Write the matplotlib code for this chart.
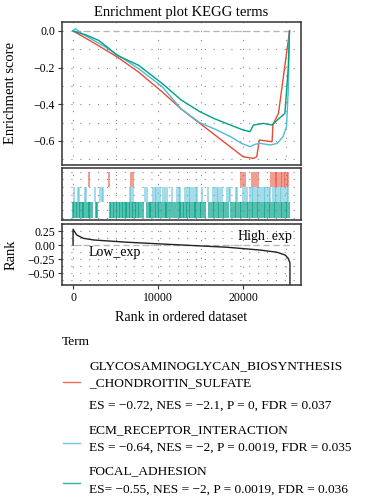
import matplotlib
matplotlib.use("Agg")
import matplotlib.pyplot as plt
from matplotlib.lines import Line2D
from matplotlib.ticker import MultipleLocator

plt.rcParams['font.family'] = ['Liberation Serif', 'DejaVu Serif']
plt.rcParams['axes.unicode_minus'] = True

# ---------------- data ----------------
terms = ["GLYCOSAMINOGLYCAN_BIOSYNTHESIS\n_CHONDROITIN_SULFATE",
         "ECM_RECEPTOR_INTERACTION",
         "FOCAL_ADHESION"]
stats = ["ES = \u22120.72, NES = \u22122.1, P = 0, FDR = 0.037",
         "ES = \u22120.64, NES = \u22122, P = 0.0019, FDR = 0.035",
         "ES= \u22120.55, NES = \u22122, P = 0.0019, FDR = 0.036"]
colors = ["#E64B35", "#4DBBD5", "#00A087"]

red_x = [0, 2600, 5200, 7700, 10500, 12700, 20000, 21200, 21600, 21900, 23400, 23500, 24150, 25450]
red_y = [0, -0.069, -0.142, -0.224, -0.333, -0.425, -0.686, -0.695, -0.686, -0.595, -0.604, -0.51, -0.45, 0.0]

blue_x = [0, 270, 1060, 3800, 5000, 7700, 10500, 12700, 14900, 16900, 18500, 19800, 20800, 21400, 22000,
          23200, 24000, 24700, 25100, 25300, 25450]
blue_y = [0, 0.013, -0.015, -0.087, -0.124, -0.205, -0.305, -0.425, -0.50, -0.54, -0.576, -0.613, -0.631,
          -0.618, -0.613, -0.622, -0.613, -0.576, -0.52, -0.32, 0.0]

teal_x = [0, 1650, 3000, 4000, 5200, 7700, 10500, 12700, 14900, 16500, 18500, 20000, 20800, 21200, 22400,
          23400, 24000, 24900, 25100, 25300, 25450]
teal_y = [0, -0.024, -0.051, -0.087, -0.133, -0.187, -0.287, -0.376, -0.44, -0.476, -0.513, -0.54, -0.549,
          -0.513, -0.504, -0.513, -0.486, -0.45, -0.33, -0.2, 0.0]

red_hits = [1900, 4250, 6800, 7050, 19800, 20000, 20250, 21000, 21250, 21500, 21700, 23300, 23500, 23700,
            23850, 24000, 24200, 24400, 24600, 24800, 24950, 25100, 25250]
blue_hits = [100, 600, 700, 1400, 1500, 2600, 3200, 3400, 3500, 6700, 6850, 7000,
             8500, 8700, 9400, 9600, 9800, 10000, 10200, 10600, 10800, 11000, 11600, 12200, 12400, 12600,
             13200, 13400, 13600, 13800, 14000, 14200, 14400, 14600, 15200, 15900, 16500, 16700, 16900,
             17100, 17300, 17500, 18100, 18300, 18500, 19100, 19300, 20000, 20200, 20400, 20800, 21000,
             21200, 21400, 21600, 21800, 22000, 22200, 22400, 22600, 22800, 23000, 23200, 23500, 23700,
             23900, 24100, 24300, 24500, 24700, 24900, 25100, 25300]
teal_hits = [0, 150, 300, 500, 650, 800, 1000, 1150, 1300, 1500, 1700, 1850, 2000, 2200, 2650, 2800,
             4300, 4500, 4650, 4800, 5000, 5200, 5350, 5500, 5700, 5900, 6050, 6200, 6400, 6600, 6750,
             6900, 7100, 7300, 7450, 7600, 7800, 8000, 8200, 8700, 8900, 9050, 9200, 9400, 9600, 9800,
             10000, 10150, 10300, 10600, 10800, 10950, 11100, 11300, 11500, 11700, 12000, 12200, 12400,
             12550, 12700, 12900, 13100, 13300, 13450, 13600, 13800, 14000, 14200, 14350, 14500, 14700,
             14900, 15100, 15300, 15500, 16000, 16200, 16400, 16600, 16800, 17000, 17200, 17400, 17600,
             17800, 18000, 18200, 18600, 18800, 19000, 19200, 19400, 19600, 19800, 20000, 20200, 20400,
             20600, 20800, 21000, 21200, 21400, 21600, 21800, 22000, 22200, 22400, 22600, 22800, 23000,
             23200, 23400, 23600, 23800, 24000, 24200, 24400, 24600, 24800, 25000, 25200, 25400]

rank_x = [0, 0, 430, 1200, 2400, 6300, 10200, 14150, 18100, 22000, 24000, 24950, 25300, 25500, 25500]
rank_y = [0, 0.28, 0.18, 0.12, 0.09, 0.05, 0.02, -0.01, -0.04, -0.09, -0.13, -0.18, -0.24, -0.32, -1.0]

# ---------------- figure ----------------
W, H = 366, 500
fig = plt.figure(figsize=(W / 100, H / 100), dpi=100)

def rect(l, t, r, b):
    return [l / W, 1 - b / H, (r - l) / W, (b - t) / H]

ax1 = fig.add_axes(rect(62, 22, 301, 165))
ax2 = fig.add_axes(rect(62, 168, 301, 220))
ax3 = fig.add_axes(rect(62, 224, 301, 285))

XL = (-1300, 26800)
grid_kw = dict(color="#8a8a8a", linewidth=0.8, linestyle=(0, (1, 7)))
for ax in (ax1, ax2, ax3):
    ax.set_xlim(*XL)
    for s in ax.spines.values():
        s.set_linewidth(1.1)
        s.set_color("#333333")
    ax.xaxis.set_major_locator(MultipleLocator(10000))
    ax.xaxis.set_minor_locator(MultipleLocator(5000))
    ax.grid(True, which="both", **grid_kw)
    ax.set_axisbelow(True)
    ax.tick_params(which="minor", length=0)
    ax.tick_params(which="major", direction="out", length=3, width=0.8, color="#333333",
                   labelsize=8.5, pad=2)

# top panel
ax1.set_ylim(-0.731, 0.049)
ax1.yaxis.set_major_locator(MultipleLocator(0.2))
ax1.yaxis.set_minor_locator(MultipleLocator(0.1))
ax1.set_yticks([0.0, -0.2, -0.4, -0.6])
ax1.set_yticklabels(["0.0", "\u22120.2", "\u22120.4", "\u22120.6"])
ax1.tick_params(axis="x", bottom=False, labelbottom=False)
ax1.hlines(0, 0, 26000, colors="#b5b5b5", linestyles=(0, (5, 3)), linewidth=0.9)
for xs, ys, c in zip([red_x, blue_x, teal_x], [red_y, blue_y, teal_y], colors):
    ax1.plot(xs, ys, color=c, linewidth=1.0)
ax1.set_title("Enrichment plot KEGG terms", fontsize=10.5, pad=4)

# hits panel
ax2.set_ylim(-0.15, 3.25)
ax2.yaxis.set_major_locator(MultipleLocator(1))
ax2.yaxis.set_minor_locator(MultipleLocator(0.5))
ax2.tick_params(axis="both", which="both", left=False, bottom=False, labelleft=False, labelbottom=False)
hit_alpha = [0.85, 0.65, 0.7]
for k, (hits, c) in enumerate(zip([teal_hits, blue_hits, red_hits], [colors[2], colors[1], colors[0]])):
    ax2.vlines(hits, k, k + 1, colors=c, linewidth=1.1, alpha=hit_alpha[k])

# rank panel
ax3.set_ylim(-0.714, 0.375)
ax3.yaxis.set_major_locator(MultipleLocator(0.25))
ax3.yaxis.set_minor_locator(MultipleLocator(0.125))
ax3.set_yticks([0.25, 0.0, -0.25, -0.5])
ax3.set_yticklabels(["0.25", "0.00", "\u22120.25", "\u22120.50"])
ax3.set_xticks([0, 10000, 20000])
ax3.set_xticklabels(["0", "10000", "20000"])
ax3.hlines(0, 0, 25500, colors="#b5b5b5", linestyles=(0, (5, 3)), linewidth=0.9)
ax3.plot(rank_x, rank_y, color="#222222", linewidth=1.0)
ax3.text(4950, -0.14, "Low_exp", fontsize=10, ha="center", va="center")
ax3.text(22600, 0.16, "High_exp", fontsize=10, ha="center", va="center")
ax3.set_xlabel("Rank in ordered dataset", fontsize=10, labelpad=5)

fig.text(11 / W, 1 - 93 / H, "Enrichment score", rotation=90, ha="center", va="center", fontsize=10.5)
fig.text(11 / W, 1 - 255 / H, "Rank", rotation=90, ha="center", va="center", fontsize=10.5)

# legend (manual)
fs = 9.6
fig.text(62 / W, 1 - 342 / H, "Term", fontsize=fs, ha="left", va="center")
entries = [
    ([366, 383], 406, 382),
    ([430], 448, 443),
    ([471], 490, 483),
]
for (name_ys, stat_y, line_y), name, st, c in zip(entries, terms, stats, colors):
    for yy, part in zip(name_ys, name.split("\n")):
        fig.text(89 / W, 1 - yy / H, part, fontsize=fs, ha="left", va="center")
    fig.text(89 / W, 1 - stat_y / H, st, fontsize=fs, ha="left", va="center")
    fig.add_artist(Line2D([63 / W, 80 / W], [1 - line_y / H] * 2, color=c, linewidth=1.0, alpha=0.8,
                          transform=fig.transFigure))

fig.savefig("out.png", dpi=100)
